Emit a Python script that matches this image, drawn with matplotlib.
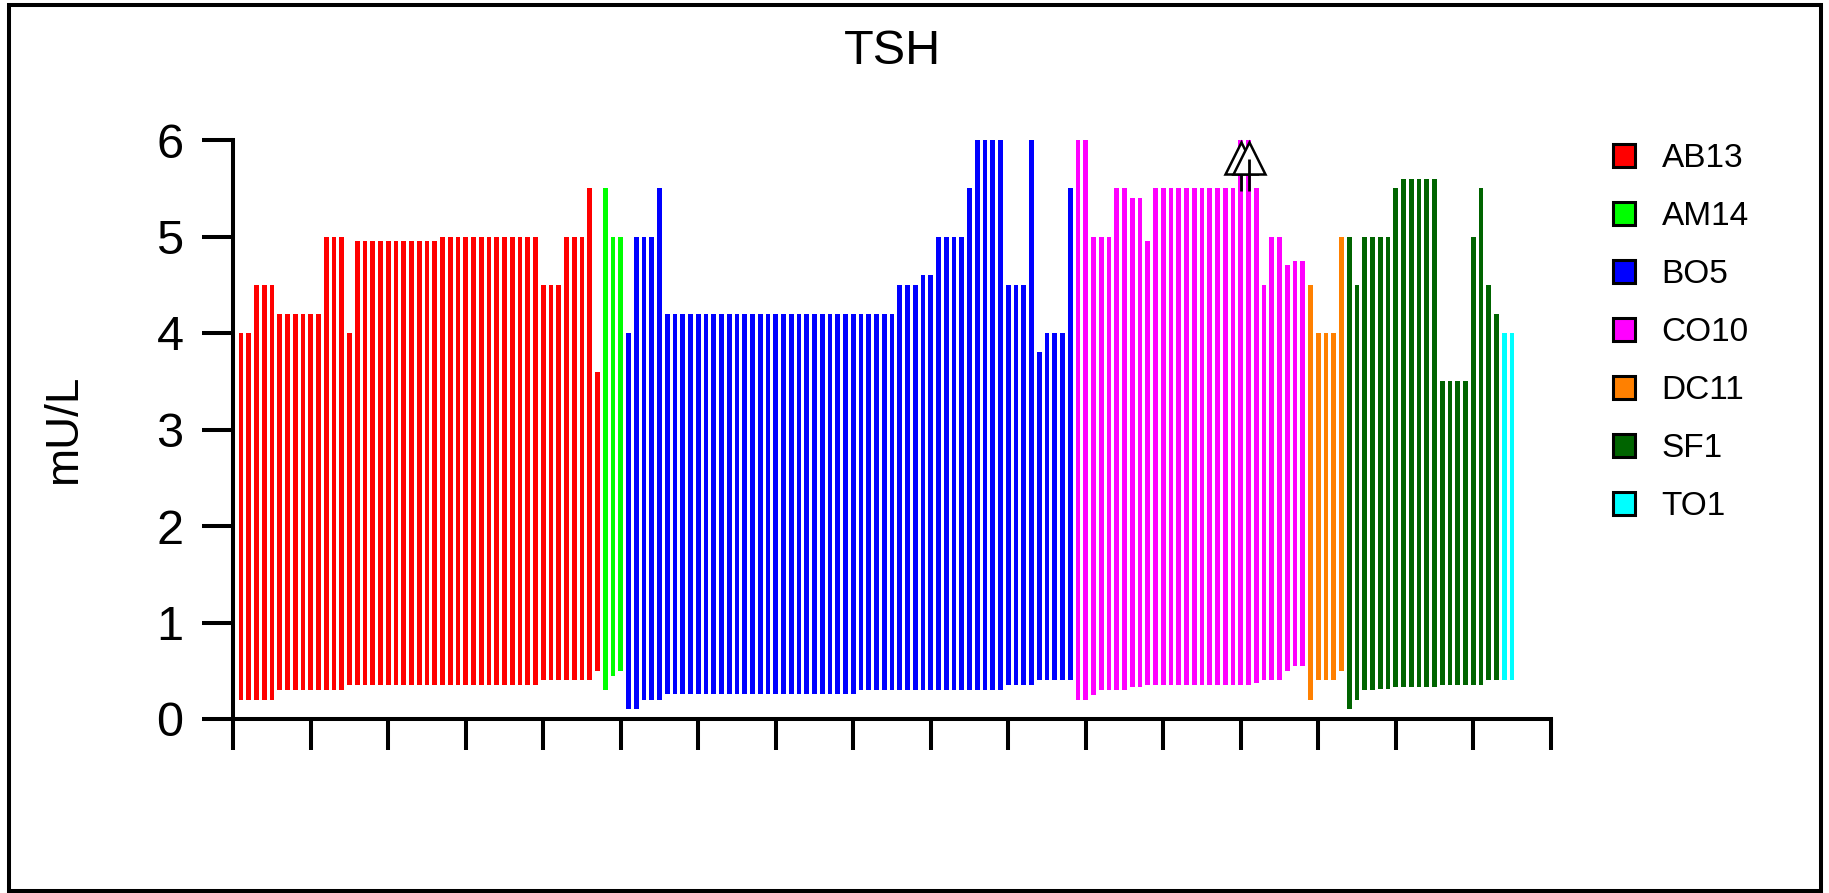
import numpy as np
import matplotlib
matplotlib.use("Agg")
import matplotlib.pyplot as plt
from matplotlib.patches import Patch, Rectangle

plt.rcParams['font.family'] = ['Liberation Sans', 'DejaVu Sans']

# reference interval per lab (upper / lower limit of TSH, mU/L)
groups = ['AB13', 'AM14', 'BO5', 'CO10', 'DC11', 'SF1', 'TO1']
colors = ['#FF0000', '#00FF00', '#0000FF', '#FF00FF', '#FF8000', '#006400', '#00FFFF']

ab13_high = [4.0, 4.0, 4.5, 4.5, 4.5, 4.2, 4.2, 4.2, 4.2, 4.2, 4.2, 5.0, 5.0, 5.0, 4.0,
             4.95, 4.95, 4.95, 4.95, 4.95, 4.95, 4.95, 4.95, 4.95, 4.95, 4.95,
             5.0, 5.0, 5.0, 5.0, 5.0, 5.0, 5.0, 5.0, 5.0, 5.0, 5.0, 5.0, 5.0,
             4.5, 4.5, 4.5, 5.0, 5.0, 5.0, 5.5, 3.6]
ab13_low = [0.2, 0.2, 0.2, 0.2, 0.2, 0.3, 0.3, 0.3, 0.3, 0.3, 0.3, 0.3, 0.3, 0.3, 0.35,
            0.35, 0.35, 0.35, 0.35, 0.35, 0.35, 0.35, 0.35, 0.35, 0.35, 0.35,
            0.35, 0.35, 0.35, 0.35, 0.35, 0.35, 0.35, 0.35, 0.35, 0.35, 0.35, 0.35, 0.35,
            0.4, 0.4, 0.4, 0.4, 0.4, 0.4, 0.4, 0.5]

am14_high = [5.5, 5.0, 5.0]
am14_low = [0.3, 0.45, 0.5]

bo5_high = [4.0, 5.0, 5.0, 5.0, 5.5,
            4.2, 4.2, 4.2, 4.2, 4.2, 4.2, 4.2, 4.2, 4.2, 4.2, 4.2, 4.2, 4.2, 4.2, 4.2,
            4.2, 4.2, 4.2, 4.2, 4.2, 4.2, 4.2, 4.2, 4.2, 4.2, 4.2, 4.2, 4.2, 4.2, 4.2,
            4.5, 4.5, 4.5, 4.6, 4.6, 5.0, 5.0, 5.0, 5.0, 5.5, 6.0, 6.0, 6.0, 6.0,
            4.5, 4.5, 4.5, 6.0, 3.8, 4.0, 4.0, 4.0, 5.5]
bo5_low = [0.1, 0.1, 0.2, 0.2, 0.2,
           0.26, 0.26, 0.26, 0.26, 0.26, 0.26, 0.26, 0.26, 0.26, 0.26, 0.26, 0.26, 0.26,
           0.26, 0.26, 0.26, 0.26, 0.26, 0.26, 0.26, 0.26, 0.26, 0.26, 0.26, 0.26,
           0.3, 0.3, 0.3, 0.3, 0.3, 0.3, 0.3, 0.3, 0.3, 0.3, 0.3, 0.3, 0.3, 0.3, 0.3,
           0.3, 0.3, 0.3, 0.3,
           0.35, 0.35, 0.35, 0.35, 0.4, 0.4, 0.4, 0.4, 0.4]

co10_high = [6.0, 6.0, 5.0, 5.0, 5.0, 5.5, 5.5, 5.4, 5.4, 4.95,
             5.5, 5.5, 5.5, 5.5, 5.5, 5.5, 5.5, 5.5, 5.5, 5.5, 5.5,
             6.0, 6.0, 5.5, 4.5, 5.0, 5.0, 4.7, 4.75, 4.75]
co10_low = [0.2, 0.2, 0.25, 0.3, 0.3, 0.3, 0.3, 0.33, 0.33, 0.35,
            0.35, 0.35, 0.35, 0.35, 0.35, 0.35, 0.35, 0.35, 0.35, 0.35, 0.35,
            0.35, 0.35, 0.37, 0.4, 0.4, 0.4, 0.5, 0.55, 0.55]

dc11_high = [4.5, 4.0, 4.0, 4.0, 5.0]
dc11_low = [0.2, 0.4, 0.4, 0.4, 0.5]

sf1_high = [5.0, 4.5, 5.0, 5.0, 5.0, 5.0, 5.5, 5.6, 5.6, 5.6, 5.6, 5.6,
            3.5, 3.5, 3.5, 3.5, 5.0, 5.5, 4.5, 4.2]
sf1_low = [0.1, 0.2, 0.3, 0.3, 0.31, 0.31, 0.33, 0.33, 0.33, 0.33, 0.33, 0.33,
           0.35, 0.35, 0.35, 0.35, 0.35, 0.35, 0.4, 0.4]

to1_high = [4.0, 4.0]
to1_low = [0.4, 0.4]

highs = [ab13_high, am14_high, bo5_high, co10_high, dc11_high, sf1_high, to1_high]
lows = [ab13_low, am14_low, bo5_low, co10_low, dc11_low, sf1_low, to1_low]

# bars whose upper limit runs off the top of the scale (bar number)
off_scale = [130, 131]

fig = plt.figure(figsize=(18.29, 8.93), dpi=100)
W, H = 1829, 893
ax = fig.add_axes([233.3 / W, 1 - 719 / H, 1317.5 / W, 579 / H])

start = 1
for name, col, hi, lo in zip(groups, colors, highs, lows):
    hi = np.array(hi)
    lo = np.array(lo)
    x = np.arange(start, start + len(hi))
    ax.bar(x, hi - lo, bottom=lo, width=0.6, color=col, linewidth=0, label=name)
    start += len(hi)

# out-of-range arrows
for i, xb in enumerate(off_scale):
    ax.plot([xb, xb], [5.47, 5.8], color='black', lw=2.0, zorder=6 + 2 * i,
            solid_capstyle='butt', clip_on=False)
    ax.plot([xb], [5.81], marker='^', markersize=23, markerfacecolor='white',
            markeredgecolor='black', markeredgewidth=1.8, zorder=5 + 2 * i,
            clip_on=False)

ax.set_xlim(0, 170)
ax.set_ylim(0, 6)
ax.set_xticks(np.arange(0, 171, 10))
ax.set_xticklabels([])
ax.set_yticks(np.arange(0, 7, 1))
ax.tick_params(axis='both', direction='out', length=22.3, width=2.9, labelsize=35)
ax.tick_params(axis='y', pad=13.5)
for s in ['top', 'right']:
    ax.spines[s].set_visible(False)
for s in ['left', 'bottom']:
    ax.spines[s].set_linewidth(2.9)

ax.set_ylabel('mU/L', fontsize=33)
ax.yaxis.set_label_coords(-0.112, 0.5)
ax.set_title('TSH', fontsize=35, pad=55)

handles = [Patch(facecolor=c, edgecolor='black', linewidth=2.2, label=g)
           for g, c in zip(groups, colors)]
fig.legend(handles=handles, loc='upper left', bbox_to_anchor=(1612.7 / W, 1 - 143 / H),
           frameon=False, fontsize=24, handlelength=0.66, handleheight=0.66,
           handletextpad=0.81, labelspacing=0.81, borderpad=0, borderaxespad=0)

# frame around the whole picture
fig.patches.append(Rectangle((8.5 / W, 1 - 891 / H), (1820.5 - 8.5) / W, (891 - 5) / H,
                             transform=fig.transFigure, fill=False,
                             edgecolor='black', linewidth=2.9))

fig.savefig('out.png', dpi=100)
